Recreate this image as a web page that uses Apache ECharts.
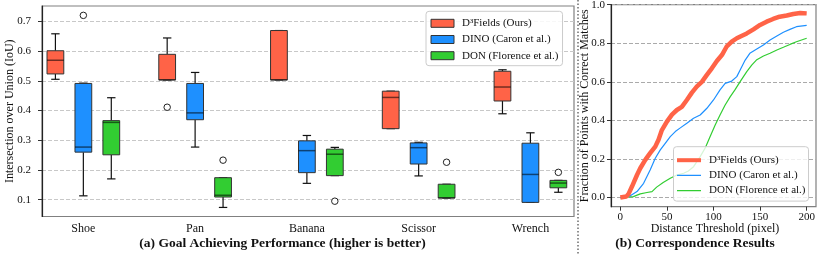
<!DOCTYPE html>
<html><head><meta charset="utf-8">
<script src="https://cdn.jsdelivr.net/npm/echarts@6/dist/echarts.min.js"></script>
<style>html,body{margin:0;padding:0;background:#fff}#c{width:822px;height:255px}</style>
</head><body><div id="c"></div>
<script>
// ---------------- data ----------------
const categories = ['Shoe', 'Pan', 'Banana', 'Scissor', 'Wrench'];
const methods = ['D³Fields (Ours)', 'DINO (Caron et al.)', 'DON (Florence et al.)'];
// box stats per category: [min whisker, Q1, median, Q3, max whisker]
const d3fieldsBoxes = [
  [0.505, 0.523, 0.569, 0.601, 0.658],
  [0.503, 0.503, 0.503, 0.589, 0.644],
  [0.503, 0.503, 0.503, 0.669, 0.669],
  [0.339, 0.339, 0.444, 0.465, 0.465],
  [0.389, 0.432, 0.479, 0.532, 0.537]
];
const dinoBoxes = [
  [0.113, 0.260, 0.277, 0.491, 0.492],
  [0.277, 0.369, 0.392, 0.491, 0.528],
  [0.155, 0.191, 0.265, 0.298, 0.316],
  [0.180, 0.220, 0.275, 0.291, 0.293],
  [0.091, 0.091, 0.185, 0.290, 0.325]
];
const donBoxes = [
  [0.170, 0.251, 0.360, 0.366, 0.443],
  [0.074, 0.109, 0.115, 0.174, 0.174],
  [0.181, 0.181, 0.253, 0.270, 0.276],
  [0.106, 0.106, 0.106, 0.152, 0.152],
  [0.125, 0.140, 0.156, 0.165, 0.165]
];
// outliers: [category index, value]
const d3fieldsOutliers = [[1, 0.411]];
const dinoOutliers = [[0, 0.720]];
const donOutliers = [[1, 0.233], [2, 0.095], [3, 0.226], [4, 0.192]];

// correspondence curves: [distance threshold (pixel), fraction]
const d3fieldsCurve = [
  [0,0],[6.4,0.005],[9,0.02],[12.5,0.057],[17.9,0.117],[21.4,0.152],[26.8,0.195],[32,0.23],
  [37.5,0.264],[41,0.30],[44.6,0.35],[50,0.394],[55.4,0.43],[60.7,0.454],[66,0.47],[71.4,0.506],
  [76.8,0.544],[82,0.575],[87.5,0.60],[92.9,0.636],[98.2,0.67],[103.6,0.708],[109,0.739],
  [114,0.782],[119.6,0.808],[125,0.826],[130,0.838],[135.7,0.851],[142.9,0.872],[150,0.895],
  [157,0.912],[164,0.926],[171,0.938],[178.6,0.944],[185.7,0.952],[193,0.957],[200,0.955]
];
const dinoCurve = [
  [0,0],[10.7,0.009],[17.9,0.031],[25,0.074],[32,0.143],[37.5,0.204],[42.9,0.247],[48,0.28],
  [53.6,0.316],[59,0.342],[64,0.36],[71.4,0.385],[78.6,0.411],[85.7,0.428],[92.9,0.463],
  [100,0.506],[107,0.558],[112.5,0.592],[119.6,0.604],[125,0.627],[128.6,0.661],[134,0.713],
  [139,0.748],[146,0.769],[153.6,0.791],[160.7,0.817],[168,0.838],[175,0.857],[182,0.872],
  [189,0.886],[200,0.893]
];
const donCurve = [
  [0,0],[14,0.005],[21.4,0.019],[28.6,0.026],[34,0.031],[39,0.054],[46,0.078],[53.6,0.10],
  [60.7,0.117],[68,0.126],[73,0.138],[78.6,0.16],[85.7,0.212],[91,0.256],[96.4,0.316],
  [101.8,0.376],[107,0.428],[112.5,0.48],[118,0.523],[123,0.558],[128.6,0.601],[135.7,0.653],
  [141,0.687],[146,0.713],[153.6,0.734],[160.7,0.748],[168,0.765],[175,0.779],[182,0.794],
  [189,0.808],[200,0.826]
];
const iouTickRange = [0.1, 0.7, 0.1];
const fracTickRange = [0, 1, 0.2];
const distTickRange = [0, 200, 50];

// ---------------- layout / style ----------------
const FONT = '"Liberation Serif", "Times New Roman", serif';
const colors = ['#FF6347', '#1E90FF', '#32CD32'];
const offsets = [-0.25, 0, 0.25];
const BOX_W = 0.15;
const L = {left: 42, top: 6, right: 574, bottom: 216.5, xMin: -0.37, xMax: 4.39, yMin: 0.0435, yMax: 0.7515};
const R = {left: 611, top: 4.7, right: 816, bottom: 206.7, xMin: -10, xMax: 210, yMin: -0.0475, yMax: 1.0};
function px(f, v) { return f.left + (v - f.xMin) / (f.xMax - f.xMin) * (f.right - f.left); }
function py(f, v) { return f.bottom - (v - f.yMin) / (f.yMax - f.yMin) * (f.bottom - f.top); }

const baseGrid = {containLabel: false, outerBoundsMode: 'none', show: false};
const grids = [
  Object.assign({}, baseGrid, {left: L.left, top: L.top, width: L.right - L.left, height: L.bottom - L.top,
    show: true, borderColor: '#808080', borderWidth: 1.2, backgroundColor: 'rgba(0,0,0,0)'}),
  Object.assign({}, baseGrid, {left: L.left, width: L.right - L.left, top: py(L, iouTickRange[1]),
    height: py(L, iouTickRange[0]) - py(L, iouTickRange[1])}),
  Object.assign({}, baseGrid, {left: px(L, 0), width: px(L, categories.length - 1) - px(L, 0), top: L.top, height: L.bottom - L.top}),
  Object.assign({}, baseGrid, {left: R.left, top: R.top, width: R.right - R.left, height: R.bottom - R.top,
    show: true, borderColor: '#808080', borderWidth: 1.2, backgroundColor: 'rgba(0,0,0,0)'}),
  Object.assign({}, baseGrid, {left: R.left, width: R.right - R.left, top: py(R, fracTickRange[1]),
    height: py(R, fracTickRange[0]) - py(R, fracTickRange[1])}),
  Object.assign({}, baseGrid, {left: px(R, distTickRange[0]), width: px(R, distTickRange[1]) - px(R, distTickRange[0]), top: R.top, height: R.bottom - R.top})
];
const hidden = (g, mn, mx) => ({gridIndex: g, type: 'value', min: mn, max: mx, show: false});
const tickLabel = (size, margin, fmt) => ({show: true, fontFamily: FONT, fontSize: size, color: '#111', margin: margin, formatter: fmt});
const spine = {show: true, onZero: false, lineStyle: {color: '#222', width: 1.2}};

const xAxes = [
  hidden(0, L.xMin, L.xMax),
  hidden(1, 0, 1),
  {gridIndex: 2, type: 'value', min: 0, max: categories.length - 1, interval: 1,
    axisLine: {show: false, onZero: false}, axisTick: {show: false}, splitLine: {show: false},
    axisLabel: tickLabel(12, 6, v => categories[Math.round(v)])},
  hidden(3, R.xMin, R.xMax),
  hidden(4, 0, 1),
  {gridIndex: 5, type: 'value', min: distTickRange[0], max: distTickRange[1], interval: distTickRange[2],
    axisLine: {show: false, onZero: false}, axisTick: {show: true, length: 4, inside: false, lineStyle: {color: '#333', width: 1}},
    splitLine: {show: false}, axisLabel: tickLabel(11, 5, v => String(v))}
];
const yAxes = [
  {gridIndex: 0, type: 'value', min: L.yMin, max: L.yMax, axisLine: spine, axisTick: {show: false}, axisLabel: {show: false}, splitLine: {show: false}},
  {gridIndex: 1, type: 'value', min: iouTickRange[0], max: iouTickRange[1], interval: iouTickRange[2],
    axisLine: {show: false, onZero: false}, axisTick: {show: true, length: 4, inside: false, lineStyle: {color: '#333', width: 1}},
    axisLabel: tickLabel(11, 11, v => v.toFixed(1)),
    splitLine: {show: true, lineStyle: {type: [4, 2], color: '#c8c8c8', width: 1}}},
  hidden(2, 0, 1),
  {gridIndex: 3, type: 'value', min: R.yMin, max: R.yMax, axisLine: spine, axisTick: {show: false}, axisLabel: {show: false}, splitLine: {show: false}},
  {gridIndex: 4, type: 'value', min: fracTickRange[0], max: fracTickRange[1], interval: fracTickRange[2],
    axisLine: {show: false, onZero: false}, axisTick: {show: true, length: 4, inside: false, lineStyle: {color: '#333', width: 1}},
    axisLabel: tickLabel(11, 6, v => v.toFixed(1)),
    splitLine: {show: true, lineStyle: {type: [4, 2], color: '#aaaaaa', width: 1}}},
  hidden(5, 0, 1)
];

function boxRenderer(color) {
  return function (params, api) {
    const x = api.value(0);
    const c = api.coord([x, api.value(1)]);
    const cx = c[0], yLo = c[1];
    const yQ1 = api.coord([x, api.value(2)])[1];
    const yMed = api.coord([x, api.value(3)])[1];
    const yQ3 = api.coord([x, api.value(4)])[1];
    const yHi = api.coord([x, api.value(5)])[1];
    const w = api.size([BOX_W, 0])[0];
    const ws = {stroke: '#111', lineWidth: 1.2};
    return {type: 'group', children: [
      {type: 'line', shape: {x1: cx, y1: yLo, x2: cx, y2: yQ1}, style: ws},
      {type: 'line', shape: {x1: cx, y1: yQ3, x2: cx, y2: yHi}, style: ws},
      {type: 'line', shape: {x1: cx - w / 4, y1: yLo, x2: cx + w / 4, y2: yLo}, style: ws},
      {type: 'line', shape: {x1: cx - w / 4, y1: yHi, x2: cx + w / 4, y2: yHi}, style: ws},
      {type: 'rect', shape: {x: cx - w / 2, y: yQ3, width: w, height: yQ1 - yQ3}, style: {fill: color, stroke: '#333', lineWidth: 1}},
      {type: 'line', shape: {x1: cx - w / 2, y1: yMed, x2: cx + w / 2, y2: yMed}, style: {stroke: 'rgba(0,0,0,0.55)', lineWidth: 1.5}}
    ]};
  };
}

const boxSets = [d3fieldsBoxes, dinoBoxes, donBoxes];
const outlierSets = [d3fieldsOutliers, dinoOutliers, donOutliers];
const curveSets = [d3fieldsCurve, dinoCurve, donCurve];
const curveWidths = [4.5, 1.2, 1.2];

const series = [];
boxSets.forEach((boxes, k) => {
  series.push({type: 'custom', name: methods[k], xAxisIndex: 0, yAxisIndex: 0, z: 3, silent: true,
    itemStyle: {color: colors[k]},
    data: boxes.map((b, i) => [i + offsets[k]].concat(b)),
    renderItem: boxRenderer(colors[k])});
  series.push({type: 'scatter', xAxisIndex: 0, yAxisIndex: 0, z: 4, silent: true, symbol: 'circle', symbolSize: 6.5,
    itemStyle: {color: '#fff', borderColor: '#222', borderWidth: 1, opacity: 1},
    data: outlierSets[k].map(o => [o[0] + offsets[k], o[1]])});
});
[2, 1, 0].forEach(k => {
  series.push({type: 'line', name: methods[k], xAxisIndex: 3, yAxisIndex: 3, z: 3 + (k === 0 ? 2 : 0), silent: true,
    symbol: 'none', showSymbol: false, data: curveSets[k],
    lineStyle: {color: colors[k], width: curveWidths[k]}, itemStyle: {color: colors[k]}});
});

const legendText = {fontFamily: FONT, fontSize: 11, color: '#111', lineHeight: 13, padding: [0, 0, 0, 3]};
const thickIcon = 'path://M0,0H24V4H0Z';
const thinIcon = 'path://M0,0H0.01V4H0ZM0,1.4H24V2.6H0Z';
const legends = [
  {orient: 'vertical', left: 426, top: 11.3, padding: [5.5, 4, 3.5, 4.5], itemGap: 3.2, itemWidth: 23, itemHeight: 8,
    selectedMode: false, backgroundColor: 'rgba(255,255,255,0.85)', borderColor: '#cccccc', borderWidth: 1, borderRadius: 3,
    textStyle: legendText,
    data: methods.map((m, k) => ({name: m, icon: 'rect', itemStyle: {color: colors[k], borderColor: '#333', borderWidth: 1}}))},
  {orient: 'vertical', left: 673.5, top: 146.7, padding: [7, 3, 4, 3.5], itemGap: 2.2, itemWidth: 24, itemHeight: 4,
    selectedMode: false, backgroundColor: 'rgba(255,255,255,0.8)', borderColor: '#cccccc', borderWidth: 1, borderRadius: 3,
    textStyle: legendText,
    data: methods.map((m, k) => ({name: m, icon: k === 0 ? thickIcon : thinIcon, itemStyle: {color: colors[k], borderWidth: 0}}))}
];

function txt(text, x, y, size, bold, rot) {
  return {type: 'text', x: x, y: y, rotation: rot || 0, silent: true, z: 10,
    style: {text: text, font: (bold ? 'bold ' : '') + size + 'px ' + FONT, fill: '#111',
      textAlign: 'center', textVerticalAlign: 'middle', align: 'center', verticalAlign: 'middle'}};
}
const graphics = [
  {type: 'line', silent: true, shape: {x1: 578, y1: 0, x2: 578, y2: 255}, style: {stroke: '#222', lineWidth: 1, lineDash: [1.5, 2]}},
  txt('Intersection over Union (IoU)', 9.5, (L.top + L.bottom) / 2, 12, false, Math.PI / 2),
  txt('(a) Goal Achieving Performance (higher is better)', 282.5, 243.5, 13.5, true),
  txt('Fraction of Points with Correct Matches', 585, (R.top + R.bottom) / 2, 12, false, Math.PI / 2),
  txt('Distance Threshold (pixel)', 715, 229.3, 12, false),
  txt('(b) Correspondence Results', 695, 243.5, 13.5, true)
];

const chart = echarts.init(document.getElementById('c'), null, {renderer: 'canvas', width: 822, height: 255});
chart.setOption({
  animation: false,
  backgroundColor: '#fff',
  textStyle: {fontFamily: FONT},
  grid: grids, xAxis: xAxes, yAxis: yAxes,
  legend: legends, series: series, graphic: graphics
});
</script></body></html>
